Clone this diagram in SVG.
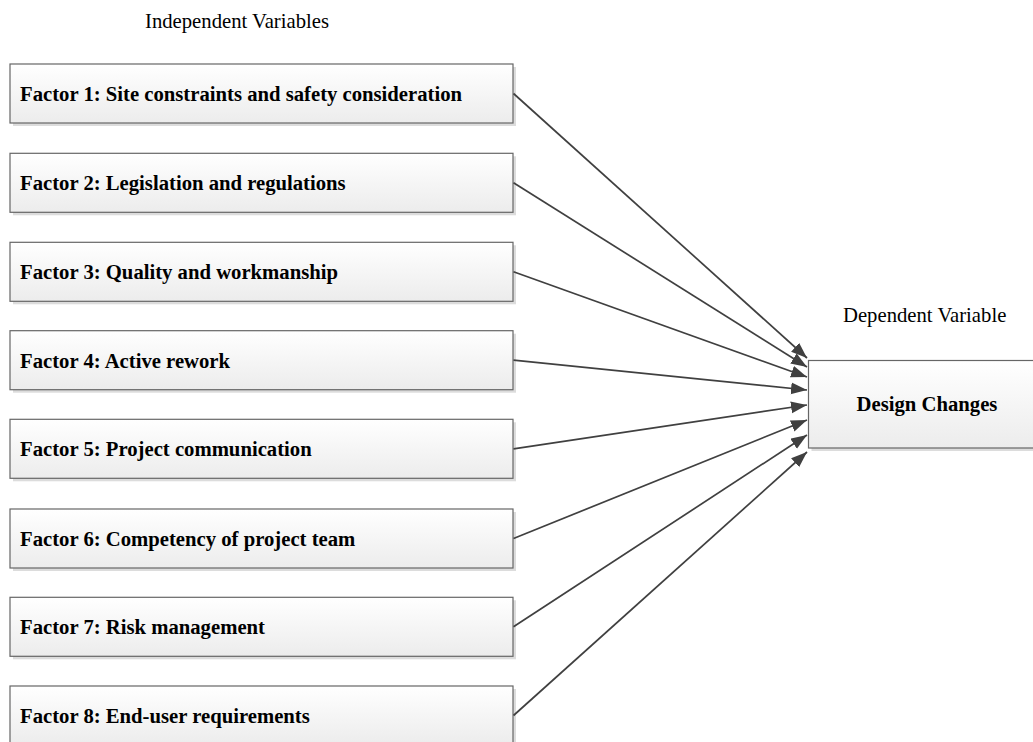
<svg xmlns="http://www.w3.org/2000/svg" width="1033" height="742" viewBox="0 0 1033 742">
<defs>
<linearGradient id="g" x1="0" y1="0" x2="0" y2="1">
<stop offset="0" stop-color="#ffffff"/>
<stop offset="1" stop-color="#ececec"/>
</linearGradient>
<marker id="ah" markerUnits="userSpaceOnUse" markerWidth="17" markerHeight="13" refX="16" refY="6" orient="auto">
<path d="M0,0 L16,6 L0,12 z" fill="#404040"/>
</marker>
<style>
.sh{fill:#dcdcdc}
.box{fill:url(#g);stroke:#666;stroke-width:1.2}
.lbl{font-family:"Liberation Serif","Times New Roman",serif;font-size:20.7px;font-weight:bold;fill:#000}
.cap{font-family:"Liberation Serif","Times New Roman",serif;font-size:20.7px;fill:#000}
.con line{stroke:#404040;stroke-width:1.7;marker-end:url(#ah)}
</style>
</defs>
<rect width="1033" height="742" fill="#fff"/>
<text class="cap" x="145" y="28">Independent Variables</text>
<text class="cap" x="843" y="322">Dependent Variable</text>
<g id="f1"><rect class="sh" x="13" y="67" width="503" height="59"/><rect class="box" x="10" y="64" width="503" height="59"/><text class="lbl" x="20" y="101">Factor 1: Site constraints and safety consideration</text></g>
<g id="f2"><rect class="sh" x="13" y="156.3" width="503" height="59"/><rect class="box" x="10" y="153.3" width="503" height="59"/><text class="lbl" x="20" y="190.3">Factor 2: Legislation and regulations</text></g>
<g id="f3"><rect class="sh" x="13" y="245.3" width="503" height="59"/><rect class="box" x="10" y="242.3" width="503" height="59"/><text class="lbl" x="20" y="279.3">Factor 3: Quality and workmanship</text></g>
<g id="f4"><rect class="sh" x="13" y="333.7" width="503" height="59"/><rect class="box" x="10" y="330.7" width="503" height="59"/><text class="lbl" x="20" y="367.7">Factor 4: Active rework</text></g>
<g id="f5"><rect class="sh" x="13" y="422.3" width="503" height="59"/><rect class="box" x="10" y="419.3" width="503" height="59"/><text class="lbl" x="20" y="456.3">Factor 5: Project communication</text></g>
<g id="f6"><rect class="sh" x="13" y="512" width="503" height="59"/><rect class="box" x="10" y="509" width="503" height="59"/><text class="lbl" x="20" y="546">Factor 6: Competency of project team</text></g>
<g id="f7"><rect class="sh" x="13" y="600.3" width="503" height="59"/><rect class="box" x="10" y="597.3" width="503" height="59"/><text class="lbl" x="20" y="634.3">Factor 7: Risk management</text></g>
<g id="f8"><rect class="sh" x="13" y="689" width="503" height="59"/><rect class="box" x="10" y="686" width="503" height="59"/><text class="lbl" x="20" y="723">Factor 8: End-user requirements</text></g>
<g id="dc"><rect class="sh" x="811.5" y="363.5" width="230" height="87.5"/><rect class="box" x="808.5" y="360.5" width="230" height="87.5"/><text class="lbl" x="927" y="411" text-anchor="middle">Design Changes</text></g>
<g class="con" id="connectors">
<line x1="513.5" y1="93.5" x2="807" y2="358"/>
<line x1="513.5" y1="182.8" x2="807" y2="367"/>
<line x1="513.5" y1="271.8" x2="807" y2="377"/>
<line x1="513.5" y1="360.2" x2="807" y2="390"/>
<line x1="513.5" y1="448.8" x2="807" y2="405"/>
<line x1="513.5" y1="538.5" x2="807" y2="420"/>
<line x1="513.5" y1="626.8" x2="807" y2="435"/>
<line x1="513.5" y1="715.5" x2="807" y2="452"/>
</g>
</svg>
